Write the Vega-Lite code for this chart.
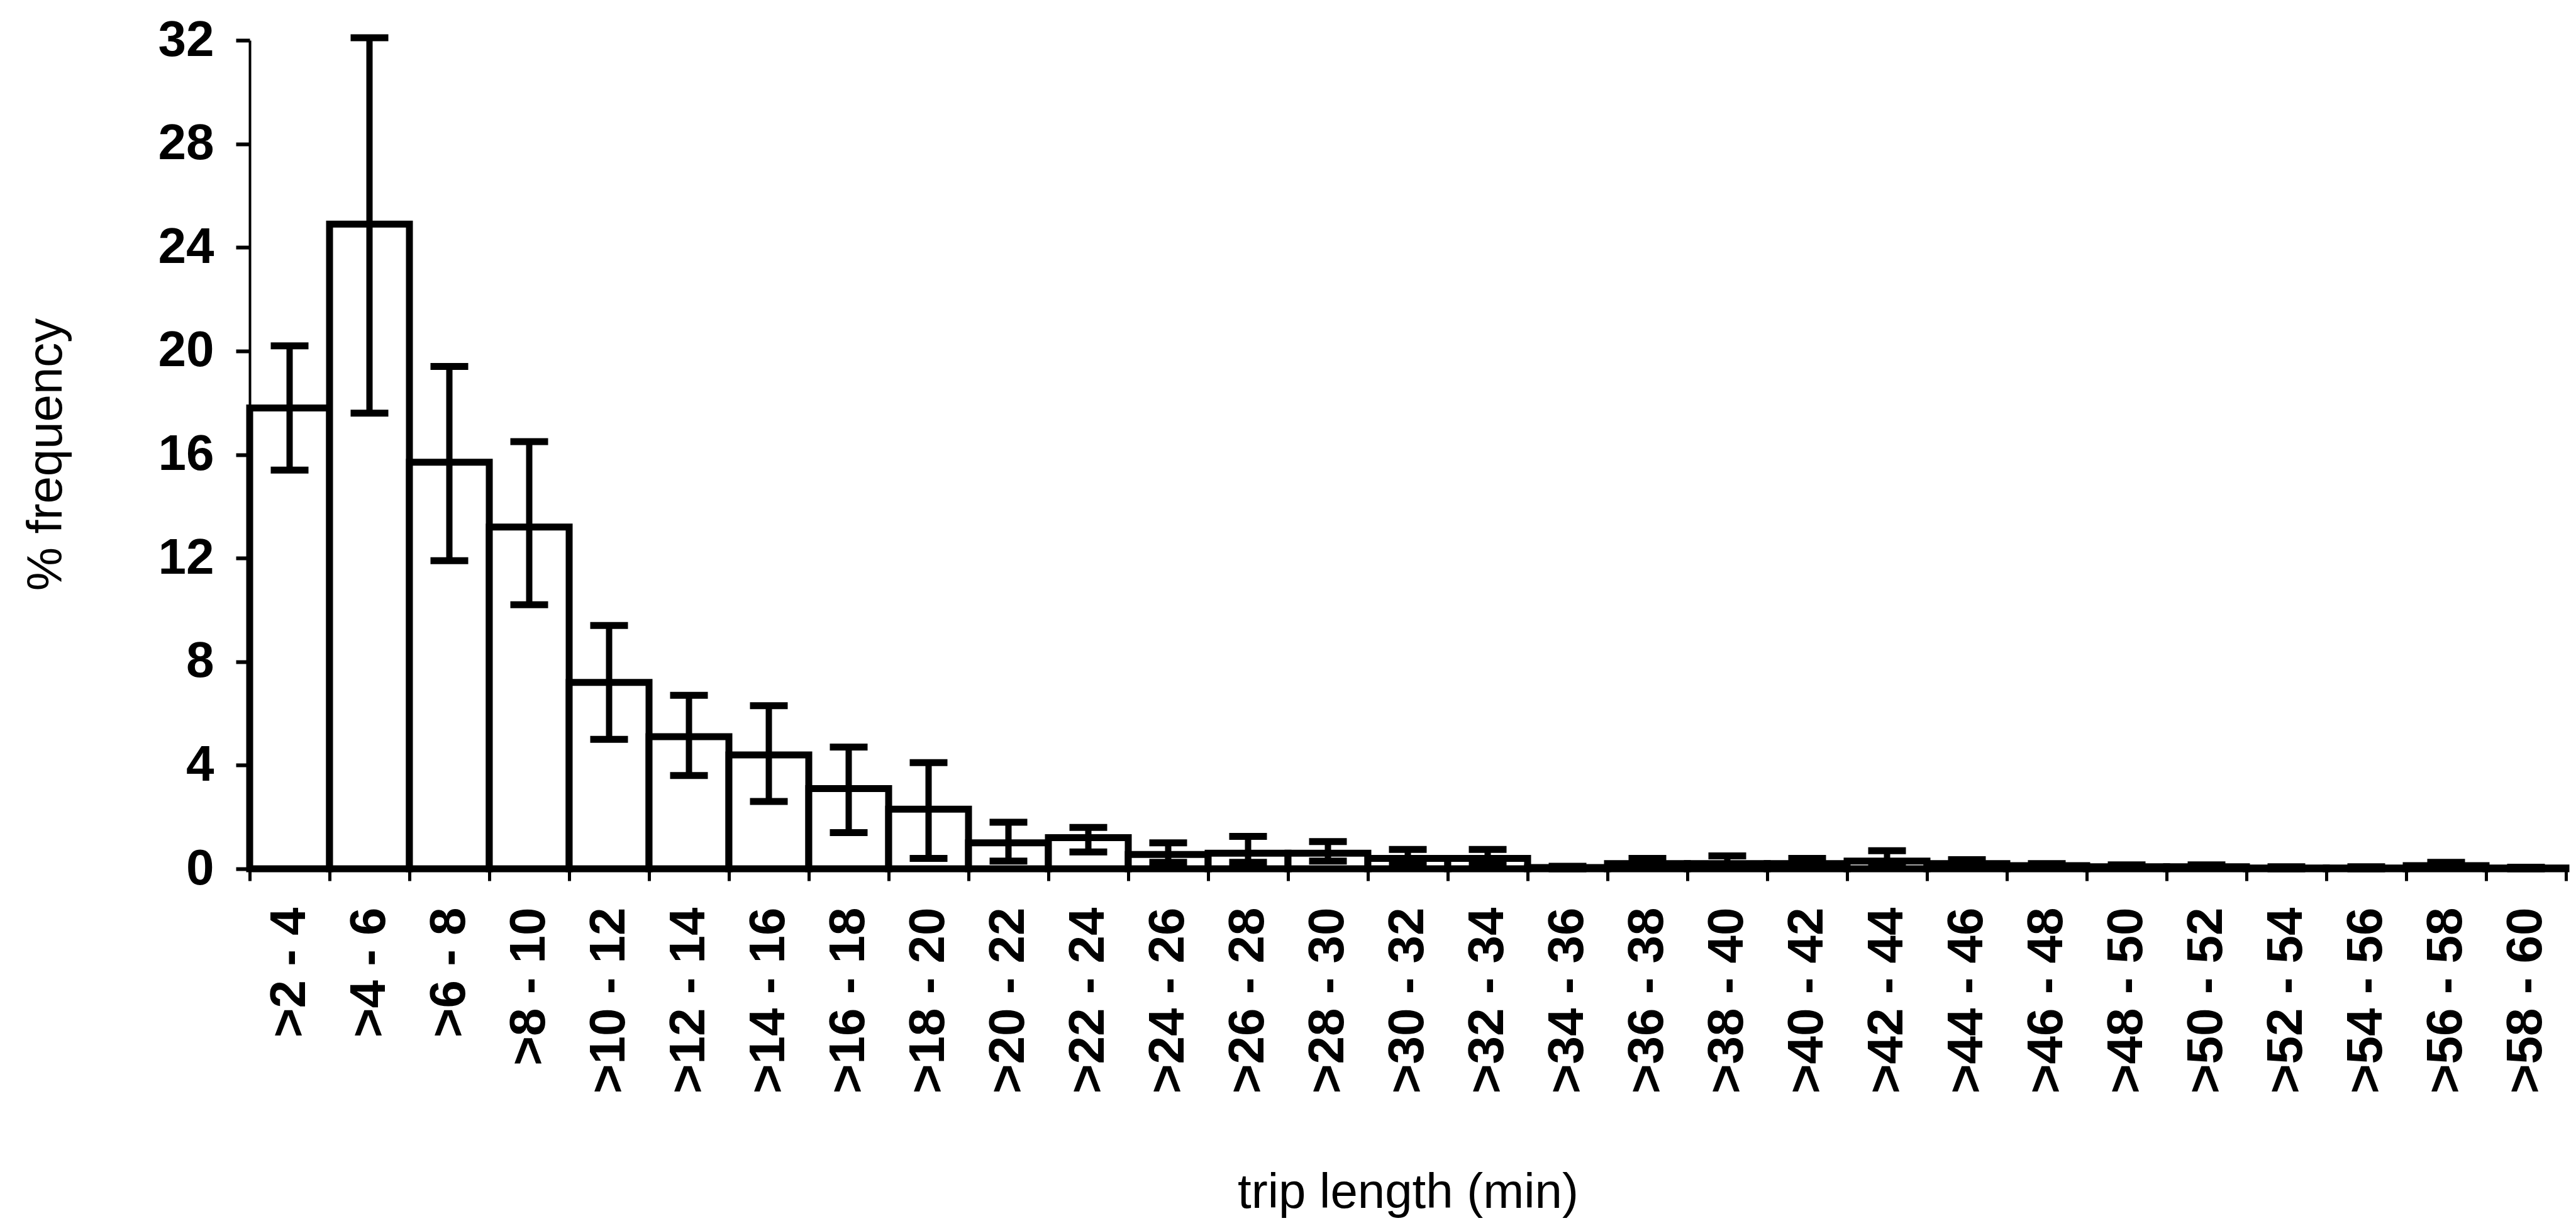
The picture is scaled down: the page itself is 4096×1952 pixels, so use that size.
{
  "$schema": "https://vega.github.io/schema/vega-lite/v6.json",
  "width": 3683,
  "height": 1317,
  "autosize": {"type": "none"},
  "padding": {"left": 397, "top": 64, "right": 16, "bottom": 571},
  "background": "white",
  "config": {"view": {"stroke": null}, "font": "Liberation Sans"},
  "data": {
    "values": [
      {"interval": ">2 - 4", "pct": 17.8, "lo": 15.4, "hi": 20.2},
      {"interval": ">4 - 6", "pct": 24.9, "lo": 17.6, "hi": 32.1},
      {"interval": ">6 - 8", "pct": 15.7, "lo": 11.9, "hi": 19.4},
      {"interval": ">8 - 10", "pct": 13.2, "lo": 10.2, "hi": 16.5},
      {"interval": ">10 - 12", "pct": 7.2, "lo": 5.0, "hi": 9.4},
      {"interval": ">12 - 14", "pct": 5.1, "lo": 3.6, "hi": 6.7},
      {"interval": ">14 - 16", "pct": 4.4, "lo": 2.6, "hi": 6.3},
      {"interval": ">16 - 18", "pct": 3.1, "lo": 1.4, "hi": 4.7},
      {"interval": ">18 - 20", "pct": 2.3, "lo": 0.4, "hi": 4.1},
      {"interval": ">20 - 22", "pct": 1.0, "lo": 0.3, "hi": 1.8},
      {"interval": ">22 - 24", "pct": 1.2, "lo": 0.65, "hi": 1.6},
      {"interval": ">24 - 26", "pct": 0.55, "lo": 0.25, "hi": 1.0},
      {"interval": ">26 - 28", "pct": 0.6, "lo": 0.25, "hi": 1.25},
      {"interval": ">28 - 30", "pct": 0.6, "lo": 0.3, "hi": 1.05},
      {"interval": ">30 - 32", "pct": 0.4, "lo": 0.15, "hi": 0.75},
      {"interval": ">32 - 34", "pct": 0.4, "lo": 0.15, "hi": 0.75},
      {"interval": ">34 - 36", "pct": 0.05, "lo": 0.0, "hi": 0.1},
      {"interval": ">36 - 38", "pct": 0.2, "lo": 0.05, "hi": 0.4},
      {"interval": ">38 - 40", "pct": 0.2, "lo": 0.05, "hi": 0.5},
      {"interval": ">40 - 42", "pct": 0.2, "lo": 0.05, "hi": 0.4},
      {"interval": ">42 - 44", "pct": 0.3, "lo": 0.05, "hi": 0.7},
      {"interval": ">44 - 46", "pct": 0.2, "lo": 0.05, "hi": 0.35},
      {"interval": ">46 - 48", "pct": 0.12, "lo": 0.03, "hi": 0.2},
      {"interval": ">48 - 50", "pct": 0.08, "lo": 0.02, "hi": 0.15},
      {"interval": ">50 - 52", "pct": 0.08, "lo": 0.02, "hi": 0.15},
      {"interval": ">52 - 54", "pct": 0.03, "lo": 0.0, "hi": 0.08},
      {"interval": ">54 - 56", "pct": 0.03, "lo": 0.0, "hi": 0.08},
      {"interval": ">56 - 58", "pct": 0.12, "lo": 0.02, "hi": 0.25},
      {"interval": ">58 - 60", "pct": 0.03, "lo": 0.0, "hi": 0.06}
    ]
  },
  "encoding": {
    "x": {
      "field": "interval",
      "type": "nominal",
      "sort": null,
      "title": "trip length (min)",
      "scale": {"paddingInner": 0, "paddingOuter": 0},
      "axis": {
        "labelAngle": -90,
        "labelFont": "Liberation Sans",
        "labelFontWeight": "bold",
        "labelFontSize": 80,
        "labelColor": "black",
        "labelPadding": 42,
        "labelOverlap": false,
        "labelLimit": 0,
        "tickBand": "extent",
        "tickSize": 19,
        "tickWidth": 5,
        "tickColor": "black",
        "domainColor": "black",
        "domainWidth": 4,
        "titleFont": "Liberation Sans",
        "titleFontSize": 78,
        "titleFontWeight": "normal",
        "titleColor": "black",
        "titleY": 538,
        "titleBaseline": "alphabetic"
      }
    }
  },
  "layer": [
    {
      "mark": {"type": "bar", "fill": "white", "stroke": "black", "strokeWidth": 11},
      "encoding": {
        "y": {
          "field": "pct",
          "type": "quantitative",
          "title": "% frequency",
          "scale": {"domain": [0, 32], "nice": false},
          "axis": {
            "values": [0, 4, 8, 12, 16, 20, 24, 28, 32],
            "grid": false,
            "labelFont": "Liberation Sans",
            "labelFontWeight": "bold",
            "labelFontSize": 80,
            "labelColor": "black",
            "labelPadding": 35,
            "tickSize": 22,
            "tickWidth": 6,
            "tickColor": "black",
            "domainColor": "black",
            "domainWidth": 4,
            "titleFont": "Liberation Sans",
            "titleFontSize": 78,
            "titleFontWeight": "normal",
            "titleColor": "black",
            "titleX": -300,
            "titleY": 658,
            "titleBaseline": "alphabetic"
          }
        }
      }
    },
    {
      "mark": {"type": "rule", "stroke": "black", "strokeWidth": 10},
      "encoding": {
        "y": {"field": "lo", "type": "quantitative", "title": "% frequency"},
        "y2": {"field": "hi"}
      }
    },
    {
      "mark": {"type": "tick", "color": "black", "size": 60, "thickness": 11, "opacity": 1},
      "encoding": {
        "y": {"field": "lo", "type": "quantitative", "title": "% frequency"}
      }
    },
    {
      "mark": {"type": "tick", "color": "black", "size": 60, "thickness": 11, "opacity": 1},
      "encoding": {
        "y": {"field": "hi", "type": "quantitative", "title": "% frequency"}
      }
    }
  ]
}
